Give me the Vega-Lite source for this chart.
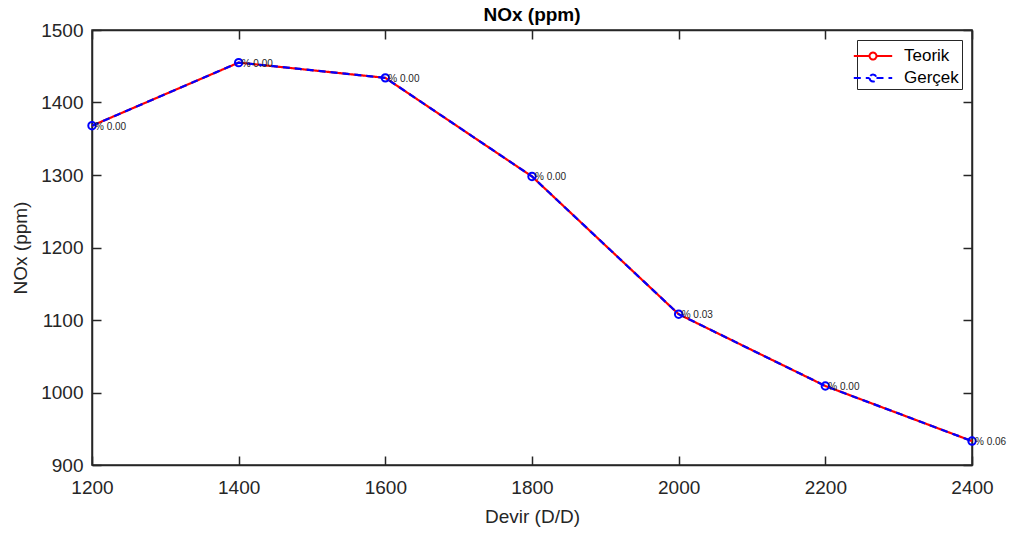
{
  "$schema": "https://vega.github.io/schema/vega-lite/v6.json",
  "width": 880,
  "height": 435,
  "autosize": {"type": "none"},
  "padding": {"left": 92, "top": 30, "right": 47, "bottom": 71},
  "background": "white",
  "title": {"text": "NOx (ppm)", "font": "Liberation Sans", "fontSize": 19, "fontWeight": "bold", "color": "#000000", "offset": 4, "dy": 8, "frame": "group"},
  "config": {
    "view": {"stroke": "#262626", "strokeWidth": 1.5},
    "font": "Liberation Sans",
    "axis": {"labelFont": "Liberation Sans", "titleFont": "Liberation Sans", "labelFontSize": 19, "titleFontSize": 19, "titleFontWeight": "normal", "labelColor": "#262626", "titleColor": "#262626", "domainColor": "#262626", "domainWidth": 1.5, "tickColor": "#262626", "tickWidth": 1.5, "tickSize": -9, "grid": false, "labelFlush": false, "format": "d"}
  },
  "data": {"values": [
    {"devir": 1200, "nox": 1368, "seri": "Teorik", "etiket": "% 0.00"},
    {"devir": 1400, "nox": 1455, "seri": "Teorik", "etiket": "% 0.00"},
    {"devir": 1600, "nox": 1434, "seri": "Teorik", "etiket": "% 0.00"},
    {"devir": 1800, "nox": 1298, "seri": "Teorik", "etiket": "% 0.00"},
    {"devir": 2000, "nox": 1108, "seri": "Teorik", "etiket": "% 0.03"},
    {"devir": 2200, "nox": 1009, "seri": "Teorik", "etiket": "% 0.00"},
    {"devir": 2400, "nox": 933, "seri": "Teorik", "etiket": "% 0.06"},
    {"devir": 1200, "nox": 1368, "seri": "Gerçek", "etiket": "% 0.00"},
    {"devir": 1400, "nox": 1455, "seri": "Gerçek", "etiket": "% 0.00"},
    {"devir": 1600, "nox": 1434, "seri": "Gerçek", "etiket": "% 0.00"},
    {"devir": 1800, "nox": 1298, "seri": "Gerçek", "etiket": "% 0.00"},
    {"devir": 2000, "nox": 1108, "seri": "Gerçek", "etiket": "% 0.03"},
    {"devir": 2200, "nox": 1009, "seri": "Gerçek", "etiket": "% 0.00"},
    {"devir": 2400, "nox": 933, "seri": "Gerçek", "etiket": "% 0.06"}
  ]},
  "layer": [
    {
      "mark": {"type": "line", "strokeWidth": 2.2},
      "encoding": {
        "x": {"field": "devir", "type": "quantitative", "scale": {"domain": [1200, 2400], "nice": false}, "axis": {"values": [1200, 1400, 1600, 1800, 2000, 2200, 2400], "title": "Devir (D/D)", "titlePadding": 10, "labelPadding": 22}},
        "y": {"field": "nox", "type": "quantitative", "scale": {"domain": [900, 1500], "nice": false, "zero": false}, "axis": {"values": [900, 1000, 1100, 1200, 1300, 1400, 1500], "title": "NOx (ppm)", "titlePadding": 10, "labelPadding": 18}},
        "color": {"field": "seri", "type": "nominal", "scale": {"domain": ["Teorik", "Gerçek"], "range": ["#ff0000", "#0000ff"]},
          "legend": {"title": null, "orient": "top-right", "offset": 10, "strokeColor": "#262626", "fillColor": "white", "padding": 3, "labelFontSize": 17, "labelColor": "#000000", "symbolType": "M-1.6,0L-0.29,0M0.29,0L1.6,0M-0.29,0A0.29,0.29 0 1,0 0.29,0A0.29,0.29 0 1,0 -0.29,0", "symbolSize": 576, "symbolStrokeWidth": 2, "symbolFillColor": "transparent", "rowPadding": 1, "labelOffset": 18}},
        "strokeDash": {"field": "seri", "type": "nominal", "scale": {"domain": ["Teorik", "Gerçek"], "range": [[1, 0], [7, 5]]}, "legend": null},
        "order": {"field": "devir", "type": "quantitative"}
      }
    },
    {
      "transform": [{"filter": "datum.seri === 'Gerçek'"}],
      "mark": {"type": "point", "shape": "circle", "filled": false, "strokeWidth": 2, "size": 55, "color": "#0000ff", "opacity": 1},
      "encoding": {
        "x": {"field": "devir", "type": "quantitative", "axis": {"orient": "top", "labels": false, "title": null, "labelPadding": 0, "values": [1200, 1400, 1600, 1800, 2000, 2200, 2400]}},
        "y": {"field": "nox", "type": "quantitative", "axis": {"orient": "right", "labels": false, "title": null, "labelPadding": 0, "values": [900, 1000, 1100, 1200, 1300, 1400, 1500]}}
      }
    },
    {
      "transform": [{"filter": "datum.seri === 'Gerçek'"}],
      "mark": {"type": "text", "align": "left", "baseline": "middle", "dx": 3, "dy": 1, "fontSize": 10, "color": "#262626"},
      "encoding": {
        "x": {"field": "devir", "type": "quantitative", "axis": null},
        "y": {"field": "nox", "type": "quantitative", "axis": null},
        "text": {"field": "etiket"}
      }
    }
  ],
  "resolve": {"axis": {"x": "independent", "y": "independent"}}
}
